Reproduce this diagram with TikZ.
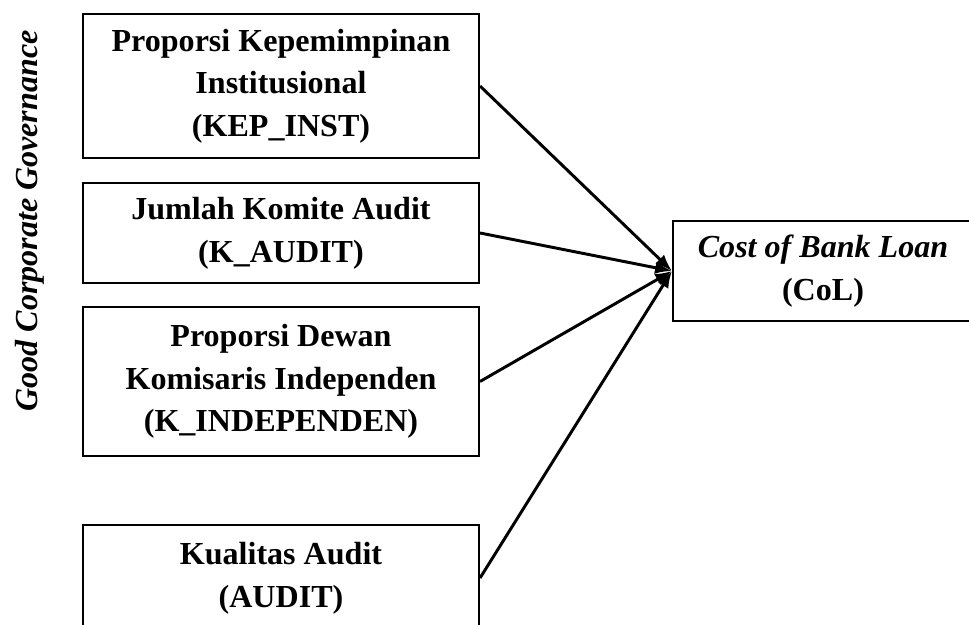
\documentclass[tikz,border=0pt]{standalone}
\usepackage{fontspec}
\setmainfont{Liberation Serif}
\usetikzlibrary{arrows.meta}

\begin{document}
\begin{tikzpicture}[x=0.025cm, y=-0.025cm, >={Latex[length=12pt,width=9pt]},
  kotak/.style={draw, line width=1.4pt, align=center, inner sep=0pt,
    font=\fontsize{22.8}{30.3}\selectfont\bfseries, minimum width=9.9cm},
  panah/.style={->, line width=2.1pt}]

  % 画布范围
  \useasboundingbox (0,0) rectangle (969,625);
  \clip (0,0) rectangle (969,625);

  % 左侧标题(竖排)
  \node[rotate=90, anchor=base, font=\fontsize{22.8}{29.2}\selectfont\bfseries\itshape]
    (gcg) at (37,221) {Good Corporate Governance};

  % 自变量框
  \node[kotak, minimum height=3.6cm] (kepinst) at (281,86)
    {Proporsi Kepemimpinan\\Institusional\\(KEP\_INST)};
  \node[kotak, minimum height=2.5cm] (kaudit) at (281,233)
    {Jumlah Komite Audit\\(K\_AUDIT)};
  \node[kotak, minimum height=3.725cm] (kindep) at (281,381.5)
    {Proporsi Dewan\\Komisaris Independen\\(K\_INDEPENDEN)};
  \node[kotak, minimum height=2.65cm] (audit) at (281,578)
    {Kualitas Audit\\(AUDIT)};

  % 因变量框
  \node[kotak, minimum width=7.5cm, minimum height=2.5cm] (col) at (823,271)
    {\textit{Cost of Bank Loan}\\(CoL)};

  % 箭头
  \draw[panah] (kepinst.east) -- (col.west);
  \draw[panah] (kaudit.east) -- (col.west);
  \draw[panah] (kindep.east) -- (col.west);
  \draw[panah] (audit.east) -- (col.west);

\end{tikzpicture}
\end{document}
